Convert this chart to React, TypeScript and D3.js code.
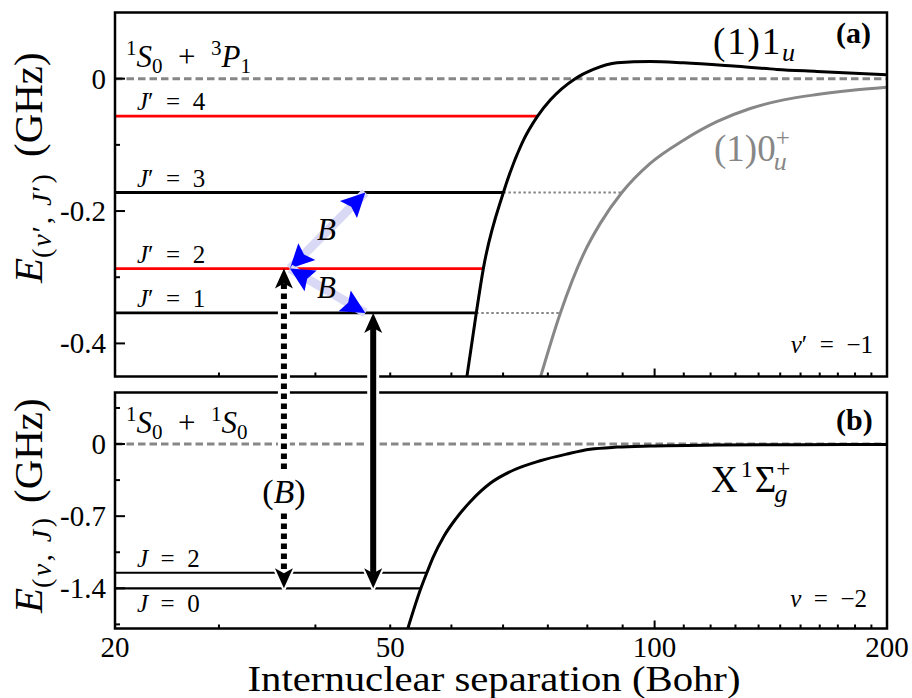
import React from 'react';
import * as d3 from 'd3';

// ---- data ----
// panel (a): (1)1u and (1)0u+ potentials, E in GHz vs R in Bohr
const r1u = [57.1, 58.75, 60.0, 63.7, 67.3, 70.5, 73.3, 78.9, 83.3, 89.4, 98.7, 109, 126.5, 144, 162.3, 200];
const e1u = [-0.452, -0.354, -0.287, -0.172, -0.098, -0.057, -0.032, 0, 0.014, 0.024, 0.026, 0.024, 0.019, 0.014, 0.011, 0.006];
const r0u = [71.1, 75.5, 80.9, 85.0, 90.7, 98.7, 109.0, 120.4, 133, 146.9, 162.3, 179.2, 200];
const e0u = [-0.452, -0.354, -0.265, -0.219, -0.172, -0.128, -0.093, -0.065, -0.045, -0.032, -0.024, -0.018, -0.013];

// rotational levels of v' = -1
const levelJa = ['4', '3', '2', '1'];
const levelEa = [-0.0566, -0.172, -0.287, -0.354];
const levelReachA = [70.5, 63.7, 60.0, 58.75];
const extendJa = ['3', '1'];
const extendReachA = [90.7, 75.5];

// panel (b): X1Sigma_g+ potential and v = -2 levels
const rX = [47.9, 49.8, 50.7, 51.7, 53.3, 55.2, 57.7, 61.25, 65.7, 71.1, 77.0, 82.5, 89.4, 98.7, 120.4, 154, 200];
const eX = [-1.79, -1.4, -1.249, -1.093, -0.899, -0.731, -0.56, -0.381, -0.252, -0.162, -0.097, -0.051, -0.03, -0.019, -0.01, -0.006, -0.004];
const levelJb = ['2', '0'];
const levelEb = [-1.249, -1.4];
const levelReachB = [50.7, 49.8];

// transitions
const blueR = [33.7, 42.2];
const dottedR = 33.1;
const solidR = 43.2;

// ticks
const xMinorTicks = [20, 27.27, 36.36, 45.45, 54.55, 63.64, 72.73, 81.82, 90.91, 109.09, 118.18, 127.27, 136.36, 145.45, 154.55, 163.64, 172.73, 181.82, 190.91, 200];
const xMajorTicks = [100];
const xTickLabels = ['20', '50', '100', '200'];
const xTickLabelAt = [20, 45.45, 100, 200];
const yMajorA = [0, -0.2, -0.4];
const yMinorA = [-0.1, -0.3];
const yMajorB = [0, -0.7, -1.4];
const yMinorB = [0.35, -0.35, -1.05, -1.75];

const FONT = "'Liberation Serif', serif";
const GRAY = '#878787';
const SP = '\u2002';

const L = 115, Rt = 887;
const topA = 12.5, botA = 376.5, topB = 392.5, botB = 628.5;

const x = d3.scaleLog().domain([20, 200]).range([L, Rt]);
const yA = d3.scaleLinear().domain([-0.45, 0.1]).range([botA, topA]);
const yB = d3.scaleLinear().domain([-1.79, 0.5]).range([botB, topB]);

const fmt = (v: number) => (v === 0 ? '0' : String(v));

function head(tx: number, ty: number, fx: number, fy: number, len: number, hw: number, notch: number) {
  const dx = tx - fx, dy = ty - fy;
  const d = Math.hypot(dx, dy);
  const ux = dx / d, uy = dy / d;
  const nx = -uy, ny = ux;
  const bx = tx - ux * len, by = ty - uy * len;
  const p = d3.path();
  p.moveTo(tx, ty);
  p.lineTo(bx + nx * hw, by + ny * hw);
  p.lineTo(tx - ux * (len - notch), ty - uy * (len - notch));
  p.lineTo(bx - nx * hw, by - ny * hw);
  p.closePath();
  return p.toString();
}

const App = () => {
  const line = (xs: number[], es: number[], ys: d3.ScaleLinear<number, number>) =>
    d3.line<number>().x((_, i) => x(xs[i])).y(e => ys(e)).curve(d3.curveMonotoneX)(es) || '';

  const yTicks = (ys: d3.ScaleLinear<number, number>, major: number[], minor: number[]) => (
    <g>
      {major.map(v => (
        <g key={'M' + v}>
          <line x1={L} x2={L + 10} y1={ys(v)} y2={ys(v)} stroke="#000" strokeWidth={2} />
          <text x={106} y={ys(v)} dy="0.34em" textAnchor="end" fontSize={29}>{fmt(v)}</text>
        </g>
      ))}
      {minor.map(v => (
        <line key={'m' + v} x1={L} x2={L + 5} y1={ys(v)} y2={ys(v)} stroke="#000" strokeWidth={2} />
      ))}
    </g>
  );

  const xTicks = (yb: number) => (
    <g>
      {xMinorTicks.map(v => (
        <line key={'m' + v} x1={x(v)} x2={x(v)} y1={yb} y2={yb - 4} stroke="#000" strokeWidth={2} />
      ))}
      {xMajorTicks.map(v => (
        <line key={'M' + v} x1={x(v)} x2={x(v)} y1={yb} y2={yb - 8} stroke="#000" strokeWidth={2} />
      ))}
    </g>
  );

  const bA = [x(blueR[0]), yA(levelEa[2])];
  const bUp = [x(blueR[1]), yA(levelEa[1])];
  const bDn = [x(blueR[1]), yA(levelEa[3])];

  const dX = x(dottedR), dTop = yA(levelEa[2]), dBot = yB(levelEb[1]);
  const sX = x(solidR), sTop = yA(levelEa[3]), sBot = yB(levelEb[1]);
  const HL = 20, HW = 9, HN = 5;

  return (
    <svg width={912} height={698} style={{ position: 'absolute', left: 0, top: 0, background: '#fff', fontFamily: FONT }}>
      <defs>
        <clipPath id="clipA"><rect x={L} y={topA} width={Rt - L} height={botA - topA} /></clipPath>
        <clipPath id="clipB"><rect x={L} y={topB} width={Rt - L} height={botB - topB} /></clipPath>
      </defs>

      {/* ---------- panel (a) ---------- */}
      <line x1={L} x2={Rt} y1={yA(0)} y2={yA(0)} stroke={GRAY} strokeWidth={3} strokeDasharray="7.5 4" />
      {levelJa.map((j, i) => (
        <line key={j} x1={L} x2={x(levelReachA[i])} y1={yA(levelEa[i])} y2={yA(levelEa[i])}
          stroke={i % 2 === 0 ? '#ff0000' : '#000'} strokeWidth={2.8} />
      ))}
      {extendJa.map((j, k) => {
        const i = levelJa.indexOf(j);
        return (
          <line key={'ext' + j} x1={x(levelReachA[i])} x2={x(extendReachA[k])} y1={yA(levelEa[i])} y2={yA(levelEa[i])}
            stroke={GRAY} strokeWidth={2} strokeDasharray="2.5 2.5" />
        );
      })}
      <g clipPath="url(#clipA)">
        <path d={line(r0u, e0u, yA)} fill="none" stroke={GRAY} strokeWidth={3} />
        <path d={line(r1u, e1u, yA)} fill="none" stroke="#000" strokeWidth={3} />
      </g>
      {levelJa.map((j, i) => (
        <text key={'t' + j} x={137} y={yA(levelEa[i]) - 6} fontSize={25}>
          <tspan fontStyle="italic">J</tspan>′{SP}={SP}{j}
        </text>
      ))}
      <text x={126} y={66.5} fontSize={31}>
        <tspan fontSize={21} dy={-12}>1</tspan><tspan dy={12} fontStyle="italic">S</tspan><tspan fontSize={21} dy={6}>0</tspan>
        <tspan dy={-6}>{SP}+{SP}</tspan>
        <tspan fontSize={21} dy={-12}>3</tspan><tspan dy={12} fontStyle="italic">P</tspan><tspan fontSize={21} dy={6}>1</tspan>
      </text>
      <text x={713} y={54} fontSize={37} textLength={82} lengthAdjust="spacing">
        (1)1<tspan fontSize={26} fontStyle="italic" dy={7}>u</tspan>
      </text>
      <text x={836} y={43} fontSize={30} fontWeight="bold">(a)</text>
      <text x={714} y={161} fontSize={37} fill={GRAY}>
        (1)0<tspan fontSize={25} dy={-15}>+</tspan><tspan fontSize={26} fontStyle="italic" dx={-16} dy={24}>u</tspan>
      </text>
      <text x={873} y={353} textAnchor="end" fontSize={25}>
        <tspan fontStyle="italic">v</tspan>′{SP}={SP}−1
      </text>
      {xTicks(botA)}
      {yTicks(yA, yMajorA, yMinorA)}
      <rect x={L} y={topA} width={Rt - L} height={botA - topA} fill="none" stroke="#000" strokeWidth={2.5} />

      {/* ---------- panel (b) ---------- */}
      <line x1={L} x2={Rt} y1={yB(0)} y2={yB(0)} stroke={GRAY} strokeWidth={3} strokeDasharray="7.5 4" />
      {levelJb.map((j, i) => (
        <line key={j} x1={L} x2={x(levelReachB[i])} y1={yB(levelEb[i])} y2={yB(levelEb[i])} stroke="#000" strokeWidth={2.2} />
      ))}
      <g clipPath="url(#clipB)">
        <path d={line(rX, eX, yB)} fill="none" stroke="#000" strokeWidth={3} />
      </g>
      <text x={137} y={567} fontSize={25}><tspan fontStyle="italic">J</tspan>{SP}={SP}{levelJb[0]}</text>
      <text x={137} y={612} fontSize={25}><tspan fontStyle="italic">J</tspan>{SP}={SP}{levelJb[1]}</text>
      <text x={126} y={433} fontSize={31}>
        <tspan fontSize={21} dy={-12}>1</tspan><tspan dy={12} fontStyle="italic">S</tspan><tspan fontSize={21} dy={6}>0</tspan>
        <tspan dy={-6}>{SP}+{SP}</tspan>
        <tspan fontSize={21} dy={-12}>1</tspan><tspan dy={12} fontStyle="italic">S</tspan><tspan fontSize={21} dy={6}>0</tspan>
      </text>
      <text x={836} y={430} fontSize={30} fontWeight="bold">(b)</text>
      <text x={711} y={492} fontSize={37}>
        X<tspan fontSize={24} dy={-15} dx={3}>1</tspan><tspan dy={15} dx={2}>Σ</tspan><tspan fontSize={25} dy={-15}>+</tspan><tspan fontSize={26} fontStyle="italic" dx={-16} dy={25}>g</tspan>
      </text>
      <text x={867} y={607} textAnchor="end" fontSize={25}>
        <tspan fontStyle="italic">v</tspan>{SP}={SP}−2
      </text>
      {xTicks(botB)}
      {yTicks(yB, yMajorB, yMinorB)}
      <rect x={L} y={topB} width={Rt - L} height={botB - topB} fill="none" stroke="#000" strokeWidth={2.5} />

      {/* ---------- transitions ---------- */}
      {[[bA, bUp], [bA, bDn]].map(([p, q], k) => (
        <g key={'blue' + k}>
          <line x1={p[0]} y1={p[1]} x2={q[0]} y2={q[1]} stroke="#d9d9f6" strokeWidth={9} />
          <path d={head(p[0], p[1], q[0], q[1], 24, 12, 4)} fill="#0000ff" />
          <path d={head(q[0], q[1], p[0], p[1], 24, 12, 4)} fill="#0000ff" />
        </g>
      ))}
      <text x={317} y={240} fontSize={31} fontStyle="italic">B</text>
      <text x={317} y={298} fontSize={31} fontStyle="italic">B</text>

      {/* white halos */}
      <line x1={dX} x2={dX} y1={dTop + HL} y2={dBot - HL} stroke="#fff" strokeWidth={12} />
      <line x1={sX} x2={sX} y1={sTop + HL} y2={sBot - HL} stroke="#fff" strokeWidth={12} />
      <path d={head(dX, dBot, dX, dTop, HL, HW, HN)} fill="#fff" stroke="#fff" strokeWidth={4} />
      <path d={head(sX, sBot, sX, sTop, HL, HW, HN)} fill="#fff" stroke="#fff" strokeWidth={4} />

      <line x1={dX} x2={dX} y1={dTop + HL - HN} y2={dBot - HL + HN} stroke="#000" strokeWidth={6} strokeDasharray="5.5 4.5" />
      <path d={head(dX, dTop, dX, dBot, HL, HW, HN)} fill="#000" />
      <path d={head(dX, dBot, dX, dTop, HL, HW, HN)} fill="#000" />
      <line x1={sX} x2={sX} y1={sTop + HL - HN} y2={sBot - HL + HN} stroke="#000" strokeWidth={6} />
      <path d={head(sX, sTop, sX, sBot, HL, HW, HN)} fill="#000" />
      <path d={head(sX, sBot, sX, sTop, HL, HW, HN)} fill="#000" />

      <rect x={dX - 22} y={469} width={44} height={43} fill="#fff" />
      <text x={dX} y={503} textAnchor="middle" fontSize={34}>
        (<tspan fontStyle="italic">B</tspan>)
      </text>

      {/* ---------- axis titles ---------- */}
      <text transform="translate(42,283) rotate(-90)" fontSize={41}>
        <tspan fontStyle="italic">E</tspan>
        <tspan fontSize={28} dy={9} letterSpacing={2}>(<tspan fontStyle="italic">v</tspan>′, <tspan fontStyle="italic">J</tspan>′)</tspan>
        <tspan x={126} dy={-9}>(GHz)</tspan>
      </text>
      <text transform="translate(42,613) rotate(-90)" fontSize={41}>
        <tspan fontStyle="italic">E</tspan>
        <tspan fontSize={28} dy={9} letterSpacing={2.5}>(<tspan fontStyle="italic">v</tspan>, <tspan fontStyle="italic">J</tspan>)</tspan>
        <tspan x={110} dy={-9}>(GHz)</tspan>
      </text>

      {xTickLabels.map((t, i) => (
        <text key={t} x={x(xTickLabelAt[i])} y={657} textAnchor="middle" fontSize={29}>{t}</text>
      ))}
      <text x={494} y={691} textAnchor="middle" fontSize={35} textLength={493} lengthAdjust="spacingAndGlyphs">
        Internuclear separation (Bohr)
      </text>
    </svg>
  );
};

export default App;
